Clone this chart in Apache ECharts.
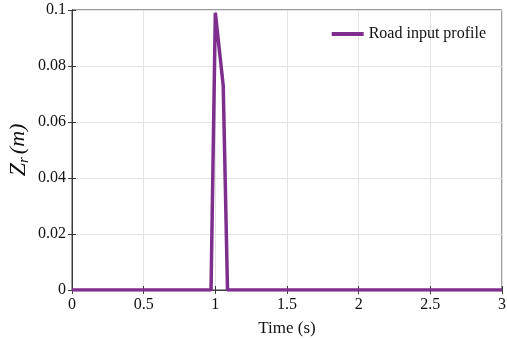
<!DOCTYPE html>
<html>
<head>
<meta charset="utf-8">
<script src="https://cdn.jsdelivr.net/npm/echarts@6/dist/echarts.min.js"></script>
<style>
  html, body { margin: 0; padding: 0; background: #fff; }
  #chart { width: 507px; height: 339px; }
</style>
</head>
<body>
<div id="chart"></div>
<script>
// road bump profile
const timeS = [0, 0.97, 1.0, 1.055, 1.085, 3];
const zr = [0, 0, 0.099, 0.073, 0, 0];
const xTicks = [0, 0.5, 1, 1.5, 2, 2.5, 3];
const yTicks = [0, 0.02, 0.04, 0.06, 0.08, 0.1];
const seriesName = "Road input profile";

const points = timeS.map((t, i) => [t, zr[i]]);
const serif = "Liberation Serif";
const axisCol = "#3a3a3a";

const chart = echarts.init(document.getElementById("chart"));
const fmt = v => (v === 0 ? "0" : String(+v.toFixed(2)));

chart.setOption({
  animation: false,
  grid: {
    left: 72, right: 5, top: 10, bottom: 49,
    outerBoundsMode: "none", containLabel: false,
    show: true, borderColor: axisCol, borderWidth: 1
  },
  legend: {
    data: [seriesName],
    right: 16, top: 21,
    itemWidth: 32, itemHeight: 4, itemGap: 5,
    icon: "rect",
    textStyle: { fontFamily: serif, fontSize: 16, color: "#111" }
  },
  xAxis: [
    {
      type: "value", min: 0, max: 3, interval: 0.5,
      name: "Time (s)", nameLocation: "middle", nameGap: 30,
      nameMoveOverlap: false,
      nameTextStyle: { fontFamily: serif, fontSize: 17, color: "#111" },
      axisLine: { show: true, lineStyle: { color: axisCol } },
      axisTick: { inside: true, length: 4, lineStyle: { color: axisCol } },
      axisLabel: { fontFamily: serif, fontSize: 16, color: "#111", margin: 7, formatter: fmt },
      splitLine: { show: true, lineStyle: { color: "#e3e3e3" } }
    },
    {
      type: "value", min: 0, max: 3, interval: 0.5, position: "top",
      axisLine: { show: true, lineStyle: { color: axisCol } },
      axisTick: { inside: true, length: 4, lineStyle: { color: axisCol } },
      axisLabel: { show: false }, splitLine: { show: false }
    }
  ],
  yAxis: [
    {
      type: "value", min: 0, max: 0.1, interval: 0.02,
      name: "{z|Z}{r|r}{m|(m)}", nameLocation: "middle", nameGap: 40,
      nameRotate: 90, nameMoveOverlap: false,
      nameTextStyle: {
        rich: {
          z: { fontFamily: serif, fontStyle: "italic", fontSize: 24, color: "#111" },
          r: { fontFamily: serif, fontStyle: "italic", fontSize: 15, color: "#111",
               verticalAlign: "bottom", padding: [12, 3, 0, 0] },
          m: { fontFamily: serif, fontStyle: "italic", fontSize: 22, color: "#111" }
        }
      },
      axisLine: { show: true, lineStyle: { color: axisCol } },
      axisTick: { inside: true, length: 4, lineStyle: { color: axisCol } },
      axisLabel: { fontFamily: serif, fontSize: 16, color: "#111", margin: 6, formatter: fmt },
      splitLine: { show: true, lineStyle: { color: "#e3e3e3" } }
    },
    {
      type: "value", min: 0, max: 0.1, interval: 0.02, position: "right",
      axisLine: { show: true, lineStyle: { color: axisCol } },
      axisTick: { inside: true, length: 4, lineStyle: { color: axisCol } },
      axisLabel: { show: false }, splitLine: { show: false }
    }
  ],
  series: [
    {
      name: seriesName,
      type: "line",
      data: points,
      symbol: "none",
      lineStyle: { color: "#7E2F8E", width: 3.5 },
      itemStyle: { color: "#7E2F8E" }
    }
  ]
});
</script>
</body>
</html>
